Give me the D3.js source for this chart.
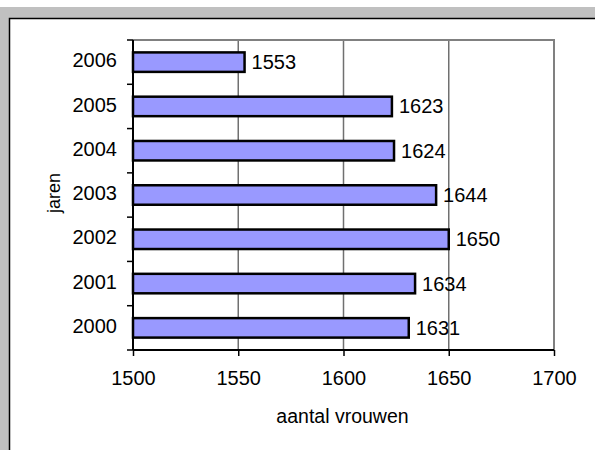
<!DOCTYPE html>
<html><head><meta charset="utf-8">
<script src="https://cdn.jsdelivr.net/npm/d3@7"></script>
<style>body{margin:0;background:#fff}svg{display:block;font-family:Arial,"Liberation Sans",sans-serif}</style>
</head><body>
<script>
const years = ["2006","2005","2004","2003","2002","2001","2000"];
const values = [1553,1623,1624,1644,1650,1634,1631];
const xTicks = [1500,1550,1600,1650,1700];
const xTitle = "aantal vrouwen";
const yTitle = "jaren";

const W=595,H=450;
const svg=d3.select("body").append("svg").attr("width",W).attr("height",H);
svg.append("rect").attr("x",0).attr("y",7).attr("width",W).attr("height",H-7).attr("fill","#c0c0c0");
svg.append("rect").attr("x",9.5).attr("y",18.5).attr("width",W+20).attr("height",H).attr("fill","#fff").attr("stroke","#000").attr("stroke-width",1.5);

const L=133,R=554,T=40,B=350;
const x=d3.scaleLinear().domain([1500,1700]).range([L,R]);
const y=d3.scaleBand().domain(years).range([T,B]).paddingInner(0.56).paddingOuter(0.28);
const yb=d3.scaleBand().domain(years).range([T,B]);

// gridlines
svg.append("g").selectAll("line").data(xTicks.slice(1,-1)).join("line")
  .attr("x1",d=>x(d)).attr("x2",d=>x(d)).attr("y1",T).attr("y2",B)
  .attr("stroke","#707070").attr("stroke-width",1.5);
// plot border top/right
svg.append("path").attr("d",`M${L},${T}H${R}V${B}`).attr("fill","none").attr("stroke","#808080").attr("stroke-width",2);

// bars
svg.append("g").selectAll("rect").data(years).join("rect")
  .attr("x",x(1500)).attr("y",(d,i)=>y(d)).attr("width",(d,i)=>x(values[i])-x(1500))
  .attr("height",y.bandwidth()).attr("fill","#9999ff").attr("stroke","#000").attr("stroke-width",2.5);

// value labels
svg.append("g").selectAll("text").data(years).join("text")
  .attr("x",(d,i)=>x(values[i])+7).attr("y",d=>y(d)+y.bandwidth()/2+7)
  .attr("font-size",20).attr("fill","#000").text((d,i)=>values[i]);

// x axis
const xa=svg.append("g").attr("transform",`translate(0,${B})`)
  .call(d3.axisBottom(x).tickValues(xTicks).tickSize(6).tickPadding(15).tickFormat(d3.format("d")));
xa.select(".domain").attr("stroke","#000").attr("stroke-width",2).attr("d",`M${L},0H${R}`);
xa.selectAll(".tick line").attr("stroke","#000").attr("stroke-width",1.5);
xa.selectAll("text").attr("font-size",20).attr("font-family",null).attr("fill","#000");

// y axis
const ya=svg.append("g").attr("transform",`translate(${L},0)`)
  .call(d3.axisLeft(yb).tickSize(0).tickPadding(16));
ya.select(".domain").attr("stroke","#000").attr("stroke-width",2).attr("d",`M0,${T}V${B}`);
ya.selectAll("text").attr("font-size",20).attr("font-family",null).attr("fill","#000").attr("dy","0.26em");
// boundary ticks
ya.append("g").selectAll("line").data(d3.range(years.length+1)).join("line")
  .attr("x1",-6).attr("x2",0).attr("y1",i=>T+i*yb.step()).attr("y2",i=>T+i*yb.step())
  .attr("stroke","#000").attr("stroke-width",1.5);

// titles
svg.append("text").attr("x",342.5).attr("y",423).attr("text-anchor","middle")
  .attr("font-size",19.5).text(xTitle);
svg.append("text").attr("transform",`translate(60,193) rotate(-90)`).attr("text-anchor","middle")
  .attr("font-size",18).text(yTitle);
</script>
</body></html>
